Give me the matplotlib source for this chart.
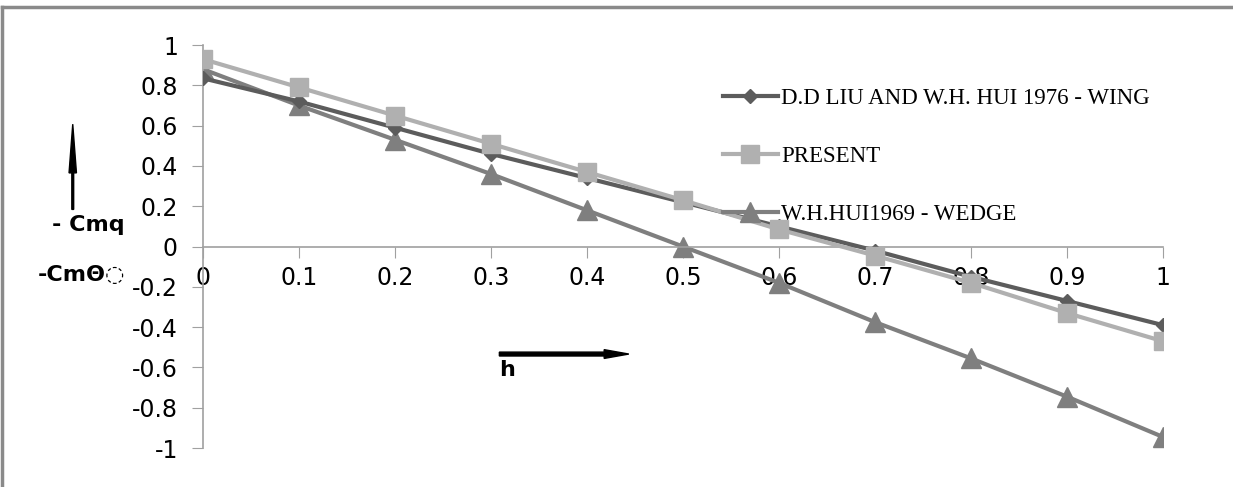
import numpy as np
import matplotlib.pyplot as plt
from matplotlib.lines import Line2D
from matplotlib.patches import FancyArrow

h = [0, 0.1, 0.2, 0.3, 0.4, 0.5, 0.6, 0.7, 0.8, 0.9, 1]
liu_hui = [0.835, 0.72, 0.59, 0.46, 0.34, 0.22, 0.10, -0.02, -0.15, -0.27, -0.39]
present = [0.93, 0.79, 0.65, 0.51, 0.37, 0.23, 0.085, -0.045, -0.18, -0.33, -0.47]
wedge = [0.88, 0.70, 0.53, 0.36, 0.18, 0.00, -0.18, -0.375, -0.555, -0.745, -0.945]
names = ["D.D LIU AND W.H. HUI 1976 - WING", "PRESENT", "W.H.HUI1969 - WEDGE"]
yticks = [1, 0.8, 0.6, 0.4, 0.2, 0, -0.2, -0.4, -0.6, -0.8, -1]

tfont = dict(family='DejaVu Sans', size=17)

fig = plt.figure(figsize=(12.33, 4.87), dpi=100)
ax = fig.add_axes([0.1646, 0.080, 0.7786, 0.8275])

ax.plot(h, liu_hui, color="#5c5c5c", lw=3, marker="D", ms=7, zorder=3)
ax.plot(h, present, color="#b0b0b0", lw=3, marker="s", ms=13, zorder=4)
ax.plot(h, wedge, color="#7f7f7f", lw=3, marker="^", ms=14, zorder=2)

ax.set_xlim(0, 1)
ax.set_ylim(-1, 1)
ax.spines['right'].set_visible(False)
ax.spines['top'].set_visible(False)
ax.spines['bottom'].set_position(('data', 0))
for s in ['left', 'bottom']:
    ax.spines[s].set_color('#a0a0a0')
    ax.spines[s].set_linewidth(1.2)

ax.set_xticks(h)
ax.set_xticklabels([('%g' % v) for v in h], **tfont)
ax.set_yticks(yticks)
ax.set_yticklabels([('%g' % v) for v in yticks], **tfont)
ax.tick_params(axis='x', direction='out', length=8, color='#a0a0a0', pad=6)
ax.tick_params(axis='y', direction='out', length=8, color='#a0a0a0', pad=10)

handles = [Line2D([], [], color="#5c5c5c", lw=3, marker="D", ms=7),
           Line2D([], [], color="#b0b0b0", lw=3, marker="s", ms=13),
           Line2D([], [], color="#7f7f7f", lw=3, marker="^", ms=14)]
leg = ax.legend(handles, names, loc='upper left', bbox_to_anchor=(0.52, 0.945),
                frameon=False, handlelength=2.4, handletextpad=0.15,
                labelspacing=1.62, prop={'family': 'Liberation Serif', 'size': 16.5})

# axis annotations
lab = dict(family='DejaVu Sans', size=16, fontweight='bold',
           ha='center', va='center')
fig.text(0.072, 0.538, "- Cmq", **lab)
fig.text(0.066, 0.435, "-CmΘ◌", **lab)
fig.text(0.411, 0.24, "h", **lab)
fig.add_artist(FancyArrow(0.059, 0.57, 0, 0.175, width=0.0015,
               head_width=0.006, head_length=0.1, color='black',
               transform=fig.transFigure, length_includes_head=True))
fig.add_artist(FancyArrow(0.405, 0.273, 0.105, 0, width=0.008,
               head_width=0.018, head_length=0.02, color='black',
               transform=fig.transFigure, length_includes_head=True))

# outer frame (top and left)
fig.add_artist(Line2D([0.0015, 1], [0.985, 0.985], transform=fig.transFigure,
                      color='#8a8a8a', lw=2.5))
fig.add_artist(Line2D([0.0015, 0.0015], [0, 0.985], transform=fig.transFigure,
                      color='#8a8a8a', lw=2.5))

plt.savefig("out.png")
plt.close()
